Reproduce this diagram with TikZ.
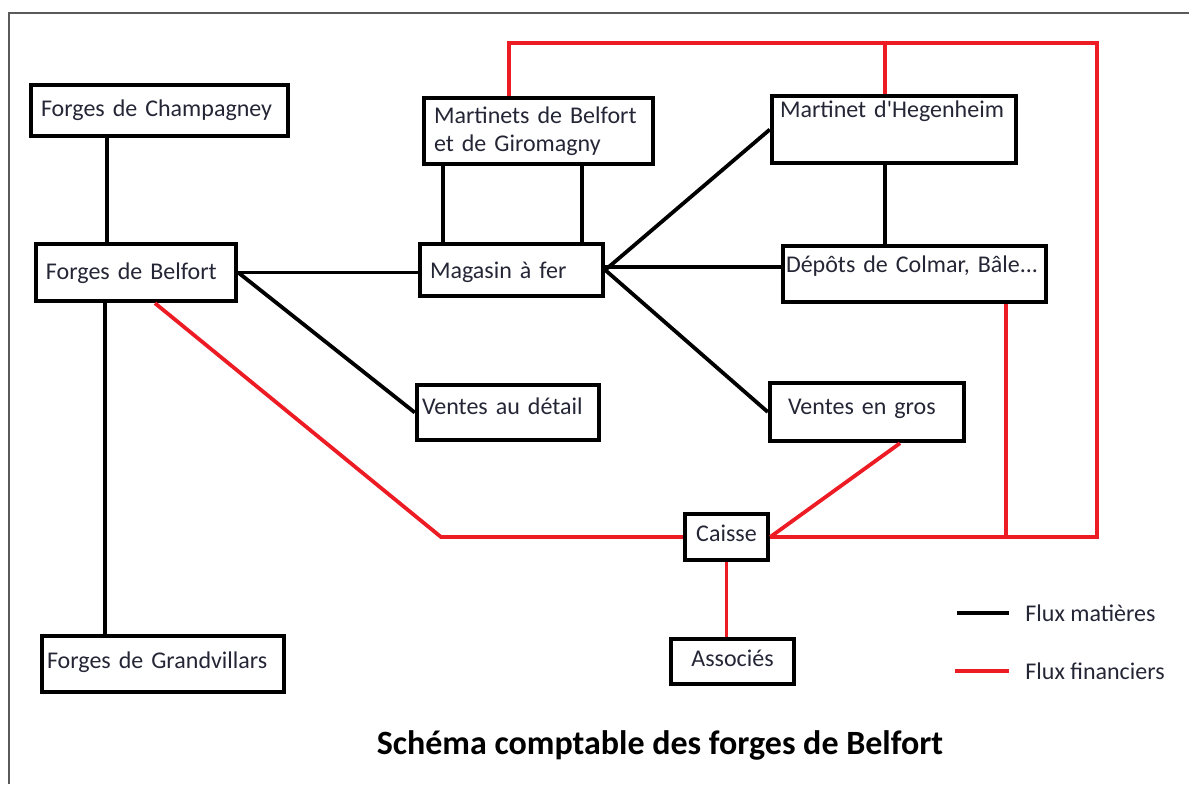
\documentclass[tikz,border=0pt]{standalone}
\usepackage{fontspec}
\setmainfont{Carlito}
\definecolor{fluxred}{RGB}{237,28,36}
\definecolor{boxtext}{RGB}{36,38,54}
\definecolor{framegray}{RGB}{90,90,90}

\begin{document}
\begin{tikzpicture}[
    x=0.5pt, y=-0.5pt,
    blk/.style={rectangle, draw, line width=2.2pt, text width=#1, align=left,
                inner xsep=5pt, inner ysep=1pt, text=boxtext,
                font=\fontsize{12}{14.2}\selectfont},
    blk/.default=80pt,
    oneline/.style={text height=8.5pt, text depth=#1},
    mat/.style={line width=1.9pt},
    fin/.style={line width=1.9pt, draw=fluxred},
    leg/.style={anchor=west, inner sep=0pt, text=boxtext,
                font=\fontsize{12}{14.2}\selectfont},
  ]
    \useasboundingbox (0,0) rectangle (1189,784);
    \draw[framegray, line width=1pt] (9,784) -- (9,13) -- (1189,13);

    \node[blk=118.5pt, oneline=2.3pt, minimum height=25.5pt] (champ) at (159.5,110.5)
      {Forges de Champagney};
    \node[blk=90pt, oneline=1.7pt, minimum height=28.5pt] (belf) at (136,272.5)
      {Forges de Belfort};
    \node[blk=116pt, inner xsep=2.5pt, oneline=4.2pt, minimum height=28pt] (grand) at (163,664)
      {Forges de Grandvillars};
    \node[blk=104.5pt, minimum height=33pt] (mart) at (538.5,131)
      {Martinets de Belfort\\et de Giromagny};
    \node[blk=81.5pt, oneline=0pt, minimum height=26pt] (mag) at (511.5,270)
      {Magasin à fer};
    \node[blk=114pt, inner xsep=4pt, oneline=21pt, minimum height=33.5pt] (hegen) at (894,129.5)
      {Martinet d\textquotesingle Hegenheim};
    \node[blk=128.5pt, inner xsep=1.5pt, oneline=10.5pt, minimum height=28pt] (dep) at (914.5,274)
      {Dépôts de Colmar, Bâle...};
    \node[blk=86pt, inner xsep=2.5pt, oneline=7pt, minimum height=27.5pt] (det) at (508,412.5)
      {Ventes au détail};
    \node[blk=79pt, inner xsep=9pt, oneline=6.5pt, minimum height=29pt] (gros) at (867,412)
      {Ventes en gros};
    \node[blk=31.5pt, align=center, oneline=3.8pt, minimum height=23pt] (caisse) at (726.5,537)
      {Caisse};
    \node[blk=51.5pt, align=center, oneline=3.3pt, minimum height=22.5pt] (assoc) at (732.5,661.5)
      {Associés};

    % flux matieres
    \draw[mat] ([xshift=-26.25pt]champ.south) -- ([xshift=-26.25pt]champ.south |- belf.north);
    \draw[mat] ([xshift=-15.5pt]belf.south) -- ([xshift=-15.5pt]belf.south |- grand.north);
    \draw[mat] (belf.east) -- (belf.east -| mag.west);
    \draw[mat] (belf.east) -- (det.west);
    \draw[mat] ([xshift=-47.75pt]mart.south) -- ([xshift=-47.75pt]mart.south |- mag.north);
    \draw[mat] ([xshift=21.75pt]mart.south) -- ([xshift=21.75pt]mart.south |- mag.north);
    \draw[mat] (mag.east) -- (hegen.west);
    \draw[mat] ([yshift=1.5pt]mag.east) -- ([yshift=1.5pt]mag.east -| dep.west);
    \draw[mat] (mag.east) -- (gros.west);
    \draw[mat] ([xshift=-4.5pt]hegen.south) -- ([xshift=-4.5pt]hegen.south |- dep.north);

    % flux financiers
    \coordinate (bus) at (1097,43);
    \coordinate (kink) at (441,537);
    \draw[fin] ([xshift=-14.75pt]mart.north) -- ([xshift=-14.75pt]mart.north |- bus)
      -- (bus) -- (bus |- caisse.east) -- (caisse.east);
    \draw[fin] ([xshift=-4.5pt]hegen.north) -- ([xshift=-4.5pt]hegen.north |- bus);
    \draw[fin] ([xshift=45.75pt]dep.south) -- ([xshift=45.75pt]dep.south |- caisse.east);
    \draw[fin] ([xshift=16.5pt]gros.south) -- (caisse.east);
    \draw[fin] ([xshift=9.5pt]belf.south) -- (kink) -- (caisse.west);
    \draw[fin] (caisse.south) -- (caisse.south |- assoc.north);

    \node[leg] (legmat) at (1025,613) {Flux matières};
    \node[leg] (legfin) at (1025,671) {Flux financiers};
    \draw[mat, line width=2.2pt] ([xshift=-8pt]legmat.west) -- ++(-26pt,0);
    \draw[fin, line width=2.2pt] ([xshift=-8pt]legfin.west) -- ++(-27pt,0);

    \node[font=\fontsize{17}{20}\selectfont\bfseries] (titre) at (660,745)
      {Schéma comptable des forges de Belfort};
\end{tikzpicture}
\end{document}
